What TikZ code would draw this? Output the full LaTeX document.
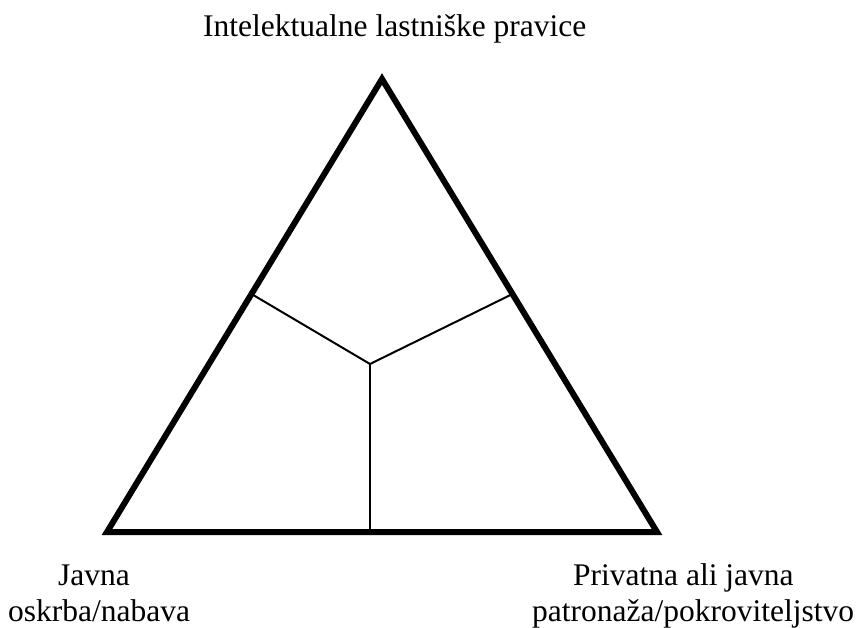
\documentclass[tikz,border=0pt]{standalone}
\usepackage{fontspec}
\setmainfont{Liberation Serif}
\begin{document}
\begin{tikzpicture}[x=1pt, y=-1pt, font=\fontsize{31.5}{36.5}\selectfont,
  textline/.style={anchor=base west, inner sep=0pt},
  outline/.style={line width=6pt, line join=miter},
  split/.style={line width=2pt}]
\useasboundingbox (0,0) rectangle (860,628);

\coordinate (apex) at (382,79);
\coordinate (cornerL) at (107,532);
\coordinate (cornerR) at (657,532);
\coordinate (centre) at (370,364);
\coordinate (edgeL) at (251.5,294);
\coordinate (edgeR) at (512.5,294);
\coordinate (edgeB) at (370,532);

\draw[split](edgeL)--(centre)--(edgeR);
\draw[split](centre)--(edgeB);
\draw[outline](apex)--(cornerL)--(cornerR)--cycle;

\node[textline] (ip) at (203,37) {Intelektualne lastniške pravice};
\node[textline] (pub1) at (58,585) {Javna};
\node[textline] (pub2) at (8,621) {oskrba/nabava};
\node[textline] (priv1) at (573,585) {Privatna ali javna};
\node[textline] (priv2) at (532,621) {patronaža/pokroviteljstvo};

\end{tikzpicture}
\end{document}
